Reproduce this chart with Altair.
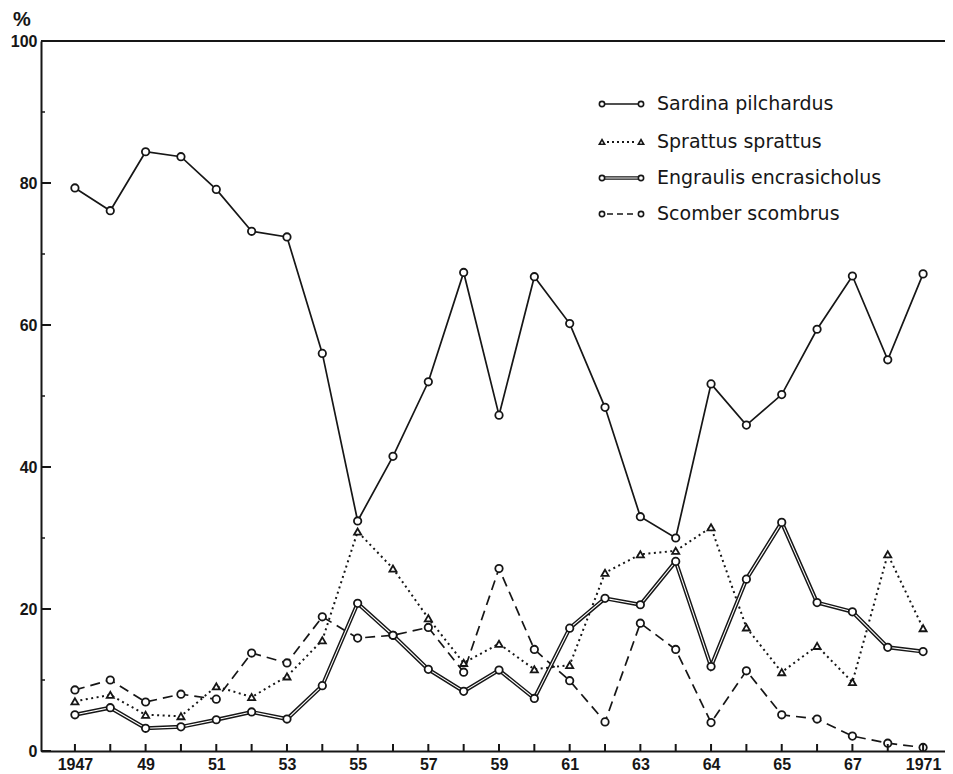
import altair as alt
import pandas as pd

years = list(range(1947, 1972))
sardina = [79.3, 76.1, 84.4, 83.7, 79.1, 73.2, 72.4, 56.0, 32.4, 41.5, 52.0, 67.4, 47.3,
           66.8, 60.2, 48.4, 33.0, 30.0, 51.7, 45.9, 50.2, 59.4, 66.9, 55.1, 67.2]
sprattus = [7.0, 7.9, 5.1, 4.9, 9.1, 7.6, 10.5, 15.6, 30.9, 25.7, 18.7, 12.4, 15.1,
            11.5, 12.1, 25.1, 27.7, 28.2, 31.5, 17.4, 11.1, 14.8, 9.7, 27.7, 17.3]
engraulis = [5.1, 6.1, 3.2, 3.4, 4.4, 5.5, 4.5, 9.2, 20.8, 16.3, 11.5, 8.4, 11.4,
             7.4, 17.3, 21.5, 20.6, 26.7, 11.9, 24.2, 32.2, 20.9, 19.6, 14.6, 14.0]
scomber = [8.6, 10.0, 6.9, 8.0, 7.3, 13.8, 12.4, 18.9, 15.9, 16.3, 17.4, 11.1, 25.7,
           14.3, 9.9, 4.1, 18.0, 14.3, 4.0, 11.3, 5.1, 4.5, 2.1, 1.1, 0.5]

series_names = ["Sardina pilchardus", "Sprattus sprattus",
                "Engraulis encrasicholus", "Scomber scombrus"]

label_years = [1947, 1949, 1951, 1953, 1955, 1957, 1959, 1961, 1963, 1965, 1967, 1969, 1971]
label_texts = ["1947", "49", "51", "53", "55", "57", "59", "61", "63", "64", "65", "67", "1971"]

y_major = [0, 20, 40, 60, 80, 100]
y_minor = [10, 30, 50, 70, 90]

W, H = 904, 710
INK = "#161616"

df = pd.DataFrame({
    "year": years * 4,
    "value": sardina + sprattus + engraulis + scomber,
    "series": sum([[n] * len(years) for n in series_names], []),
})

label_expr = " : ".join(
    f"datum.value == {y} ? '{t}'" for y, t in zip(label_years, label_texts)
) + " : ''"

xscale = alt.Scale(domain=[1946.04, 1971.62], nice=False, zero=False)
yscale = alt.Scale(domain=[0, 100], nice=False)

xenc = alt.X("year:Q", scale=xscale, axis=alt.Axis(
    values=label_years, labelExpr=label_expr, tickSize=0, grid=False, title=None,
    domainWidth=2, domainColor=INK, labelFont="Liberation Sans", labelFontWeight="bold",
    labelFontSize=16, labelPadding=5, labelColor=INK, labelFlush=False))
yenc = alt.Y("value:Q", scale=yscale, axis=alt.Axis(
    values=y_major, tickSize=0, grid=False, title=None, domainWidth=2, domainColor=INK,
    labelFont="Liberation Sans", labelFontWeight="bold", labelFontSize=16,
    labelPadding=4, labelColor=INK, labelFlush=False))

base = alt.Chart(df)


def sub(name):
    return base.transform_filter(alt.datum.series == name)


layers = []
# Sardina - solid
layers.append(sub("Sardina pilchardus").mark_line(color=INK, strokeWidth=1.7).encode(x=xenc, y=yenc))
# Sprattus - dotted
layers.append(sub("Sprattus sprattus").mark_line(color=INK, strokeWidth=2, strokeDash=[2, 3.5]).encode(x=xenc, y=yenc))
# Scomber - dashed
layers.append(sub("Scomber scombrus").mark_line(color=INK, strokeWidth=1.7, strokeDash=[10, 6]).encode(x=xenc, y=yenc))
# Engraulis - double line
layers.append(sub("Engraulis encrasicholus").mark_line(color=INK, strokeWidth=4).encode(x=xenc, y=yenc))
layers.append(sub("Engraulis encrasicholus").mark_line(color="white", strokeWidth=1.1).encode(x=xenc, y=yenc))

circ = dict(shape="circle", size=55, filled=True, fill="white", stroke=INK, strokeWidth=1.8, opacity=1)
tri = dict(shape="triangle-up", size=50, filled=True, fill="white", stroke=INK, strokeWidth=1.8, opacity=1)
for n in ["Sardina pilchardus", "Engraulis encrasicholus", "Scomber scombrus"]:
    layers.append(sub(n).mark_point(**circ).encode(x=xenc, y=yenc))
layers.append(sub("Sprattus sprattus").mark_point(**tri).encode(x=xenc, y=yenc))

# top frame line
layers.append(alt.Chart(pd.DataFrame({"v": [100]})).mark_rule(color=INK, strokeWidth=2).encode(
    y=alt.Y("v:Q", scale=yscale)))

# inward ticks on y axis
layers.append(alt.Chart(pd.DataFrame({"v": y_major})).mark_rule(color=INK, strokeWidth=2).encode(
    y=alt.Y("v:Q", scale=yscale), x=alt.value(0), x2=alt.value(10)))
layers.append(alt.Chart(pd.DataFrame({"v": y_minor})).mark_rule(color=INK, strokeWidth=1.5).encode(
    y=alt.Y("v:Q", scale=yscale), x=alt.value(0), x2=alt.value(4)))
# inward ticks on x axis
layers.append(alt.Chart(pd.DataFrame({"year": years})).mark_rule(color=INK, strokeWidth=2).encode(
    x=alt.X("year:Q", scale=xscale), y=alt.value(H + 1), y2=alt.value(H - 7)))

# "%" unit label
one = pd.DataFrame({"a": [0]})
layers.append(alt.Chart(one).mark_text(text="%", font="Liberation Sans", fontWeight="bold",
                                       fontSize=20, color=INK).encode(
    x=alt.value(-19), y=alt.value(-21)))

# custom legend
leg_y = [63, 101, 137, 173]
LX0, LX1, TX = 561, 600, 616
for name, ly in zip(series_names, leg_y):
    if name == "Sardina pilchardus":
        layers.append(alt.Chart(one).mark_rule(color=INK, strokeWidth=1.6).encode(
            x=alt.value(LX0), x2=alt.value(LX1), y=alt.value(ly)))
    elif name == "Sprattus sprattus":
        layers.append(alt.Chart(one).mark_rule(color=INK, strokeWidth=1.8, strokeDash=[2, 3]).encode(
            x=alt.value(LX0 + 5), x2=alt.value(LX1 - 5), y=alt.value(ly)))
    elif name == "Engraulis encrasicholus":
        layers.append(alt.Chart(one).mark_rule(color=INK, strokeWidth=3.6).encode(
            x=alt.value(LX0), x2=alt.value(LX1), y=alt.value(ly)))
        layers.append(alt.Chart(one).mark_rule(color="white", strokeWidth=1).encode(
            x=alt.value(LX0), x2=alt.value(LX1), y=alt.value(ly)))
    else:
        layers.append(alt.Chart(one).mark_rule(color=INK, strokeWidth=1.6, strokeDash=[6, 4]).encode(
            x=alt.value(LX0 + 5), x2=alt.value(LX1 - 5), y=alt.value(ly)))
    sym = dict(shape="triangle-up" if name == "Sprattus sprattus" else "circle", size=28,
               filled=True, fill="white", stroke=INK, strokeWidth=1.6, opacity=1)
    for sx in (LX0, LX1):
        layers.append(alt.Chart(one).mark_point(**sym).encode(x=alt.value(sx), y=alt.value(ly)))
    layers.append(alt.Chart(one).mark_text(text=name, align="left", baseline="middle",
                                           font="DejaVu Sans", fontSize=19, color=INK).encode(
        x=alt.value(TX), y=alt.value(ly)))

chart = alt.layer(*layers).properties(
    width=W, height=H,
    autosize=alt.AutoSizeParams(type="none"),
    padding={"left": 33, "top": 33, "right": 0, "bottom": 22},
    background="white",
).configure_view(stroke=None)

chart.save("out.html", embed_options={"renderer": "svg", "actions": False})
